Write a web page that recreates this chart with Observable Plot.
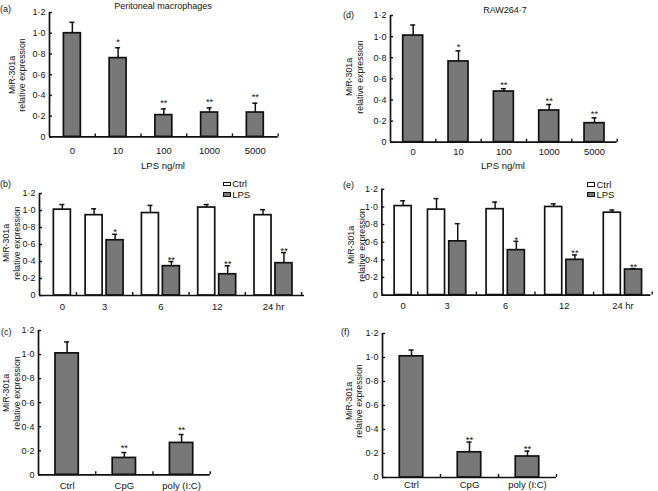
<!DOCTYPE html>
<html>
<head>
<meta charset="utf-8">
<script src="https://cdn.jsdelivr.net/npm/d3@7"></script>
<script src="https://cdn.jsdelivr.net/npm/@observablehq/plot@0.6"></script>
<style>
  html, body { margin: 0; padding: 0; background: #fff; }
  #fig { position: relative; width: 658px; height: 491px; overflow: hidden;
         font-family: "Liberation Sans", Arial, Helvetica, sans-serif; color: #111; }
  .panel { position: absolute; }
  .t { position: absolute; white-space: nowrap; line-height: 1; }
  .sw { position: absolute; box-sizing: border-box; border: 1px solid #111; width: 8px; height: 4.5px; }
</style>
</head>
<body>
<div id="fig"></div>
<script>
// ---------------- data ----------------
const yTicks = [0, 0.2, 0.4, 0.6, 0.8, 1.0, 1.2];

// (a) Peritoneal macrophages, LPS dose
const doseLabels = ["0", "10", "100", "1000", "5000"];
const aValues = [1.00, 0.76, 0.21, 0.235, 0.235];
const aErrors = [0.105, 0.10, 0.06, 0.045, 0.09];
const aStars  = ["", "*", "**", "**", "**"];

// (d) RAW264.7, LPS dose
const dValues = [1.01, 0.765, 0.48, 0.30, 0.18];
const dErrors = [0.10, 0.10, 0.027, 0.057, 0.05];
const dStars  = ["", "*", "**", "**", "**"];

// (b) Peritoneal macrophages, time course
const timeLabels = ["0", "3", "6", "12", "24 hr"];
const bCtrl    = [1.01, 0.945, 0.97, 1.035, 0.945];
const bCtrlErr = [0.06, 0.075, 0.09, 0.035, 0.065];
const bLps     = [null, 0.65, 0.345, 0.25, 0.38];
const bLpsErr  = [null, 0.07, 0.055, 0.10, 0.125];
const bStars   = ["", "*", "**", "**", "**"];

// (e) RAW264.7, time course
const eCtrl    = [1.01, 0.97, 0.975, 1.00, 0.935];
const eCtrlErr = [0.06, 0.125, 0.08, 0.035, 0.03];
const eLps     = [null, 0.61, 0.51, 0.40, 0.29];
const eLpsErr  = [null, 0.20, 0.10, 0.055, 0.012];
const eStars   = ["", "", "*", "**", "**"];

// (c) / (f) TLR ligands
const ligandLabels = ["Ctrl", "CpG", "poly (I:C)"];
const cValues = [1.01, 0.14, 0.265];
const cErrors = [0.095, 0.045, 0.07];
const cStars  = ["", "**", "**"];
const fValues = [1.01, 0.21, 0.175];
const fErrors = [0.052, 0.085, 0.045];
const fStars  = ["", "**", "**"];

// ---------------- helpers ----------------
const GRAY = "#787878";
const INK = "#111";
const fmt = d => d === 0 ? "0" : d.toFixed(1).replace(".", "\u00b7");

function singleRows(labels, values, errors, stars) {
  return labels.map((l, i) => ({slot: l, label: l, cond: "one", paired: false,
    value: values[i], err: errors[i], star: stars[i]}));
}
function groupedRows(labels, ctrl, ctrlErr, lps, lpsErr, stars) {
  const rows = [];
  labels.forEach((l, i) => {
    const paired = lps[i] != null;
    rows.push({slot: l + "|Ctrl", label: l, cond: "Ctrl", paired, value: ctrl[i], err: ctrlErr[i], star: ""});
    if (paired) rows.push({slot: l + "|LPS", label: l, cond: "LPS", paired, value: lps[i], err: lpsErr[i], star: stars[i]});
  });
  return rows;
}

const fig = document.getElementById("fig");

function drawPanel(p) {
  const ml = 40, mr = 8, mt = 10, mb = 24;
  const width = p.x1 - p.x0 + ml + mr;
  const height = p.yZero - p.yTop + mt + mb;
  const slots = p.rows.map(d => d.slot);
  const align = p.align ?? 0.5;
  const xs = d3.scaleBand(slots, [p.x0, p.x1]).paddingInner(p.pi).paddingOuter(p.po).align(align);
  const bw = xs.bandwidth(), step = xs.step();
  const capInset = (bw - 5) / 2;
  const sw = 1.7;

  let roles, labelSets, bounds;
  if (p.grouped) {
    const d = p.pairShift;
    roles = [
      {rows: p.rows.filter(r => r.cond === "Ctrl" && !r.paired), dx: 0, fill: "white"},
      {rows: p.rows.filter(r => r.cond === "Ctrl" && r.paired), dx: d, fill: "white"},
      {rows: p.rows.filter(r => r.cond === "LPS"), dx: -d, fill: GRAY}
    ];
    labelSets = [
      {rows: p.rows.filter(r => r.cond === "Ctrl" && !r.paired), dx: 0},
      {rows: p.rows.filter(r => r.cond === "Ctrl" && r.paired), dx: step / 2}
    ];
    bounds = p.rows.filter(r => !r.paired || r.cond === "LPS").map(r => r.slot);
  } else {
    roles = [{rows: p.rows, dx: 0, fill: GRAY}];
    labelSets = [{rows: p.rows, dx: 0}];
    bounds = slots;
  }

  const marks = [];
  for (const role of roles) {
    marks.push(
      Plot.barY(role.rows, {x: "slot", y: "value", dx: role.dx, fill: role.fill, stroke: INK, strokeWidth: sw}),
      Plot.ruleX(role.rows, {x: "slot", y1: "value", y2: d => d.value + d.err, dx: role.dx, stroke: INK, strokeWidth: 1.5}),
      Plot.tickY(role.rows, {x: "slot", y: d => d.value + d.err, dx: role.dx, insetLeft: capInset, insetRight: capInset, stroke: INK, strokeWidth: 1.5}),
      Plot.text(role.rows.filter(d => d.star), {x: "slot", y: d => d.value + d.err, text: "star", dx: role.dx, dy: p.starDy, fontSize: 9.5, fill: INK})
    );
  }
  // axes lines and ticks
  marks.push(
    Plot.ruleY([0], {stroke: INK, strokeWidth: 1.7}),
    Plot.ruleX([slots[0]], {x: d => d, y1: 0, y2: 1.2, dx: p.x0 - (xs(slots[0]) + bw / 2), stroke: INK, strokeWidth: 1.7}),
    Plot.ruleY(yTicks, {y: d => d, insetRight: (p.x1 - p.x0) - 3, stroke: INK, strokeWidth: 1.4}),
    Plot.ruleX(bounds, {x: d => d, y1: 0, y2: 0, insetTop: -3, dx: step / 2, stroke: INK, strokeWidth: 1.4})
  );
  for (const ls of labelSets) {
    marks.push(Plot.text(ls.rows, {x: "slot", y: () => 0, text: "label", dx: ls.dx, dy: p.labelDy, fontSize: 9.5, fill: INK}));
  }

  const chart = Plot.plot({
    width, height,
    marginLeft: ml, marginRight: mr, marginTop: mt, marginBottom: mb,
    style: {fontFamily: '"Liberation Sans", Arial, sans-serif', fontSize: "9px", color: INK, background: "none", overflow: "visible"},
    x: {type: "band", domain: slots, paddingInner: p.pi, paddingOuter: p.po, align, round: false, axis: null},
    y: {domain: [0, 1.2], ticks: yTicks, tickFormat: fmt, tickSize: 0, tickPadding: 4, label: null},
    marks
  });
  const wrap = document.createElement("div");
  wrap.className = "panel";
  wrap.style.left = (p.x0 - ml) + "px";
  wrap.style.top = (p.yTop - mt) + "px";
  wrap.appendChild(chart);
  fig.appendChild(wrap);
}

function addText(txt, x, y, {size = 9, anchor = "middle", rotate = 0} = {}) {
  const el = document.createElement("div");
  el.className = "t";
  el.textContent = txt;
  el.style.left = x + "px";
  el.style.top = y + "px";
  el.style.fontSize = size + "px";
  const tx = anchor === "middle" ? "-50%" : anchor === "end" ? "-100%" : "0";
  el.style.transform = `translate(${tx},-50%)` + (rotate ? ` rotate(${rotate}deg)` : "");
  fig.appendChild(el);
}
function addYTitle(x1, x2, cy) {
  addText("MiR-301a", x1, cy, {size: 8.8, rotate: -90});
  addText("relative expression", x2, cy, {size: 8.8, rotate: -90});
}
function addLegend(x, y1, y2) {
  const names = ["Ctrl", "LPS"], fills = ["#fff", GRAY], ys = [y1, y2];
  names.forEach((n, i) => {
    const b = document.createElement("div");
    b.className = "sw";
    b.style.left = x + "px";
    b.style.top = (ys[i] - 2.2) + "px";
    b.style.background = fills[i];
    fig.appendChild(b);
    addText(n, x + 9.5, ys[i], {size: 9.5, anchor: "start"});
  });
}

// ---------------- panels ----------------
drawPanel({rows: singleRows(doseLabels, aValues, aErrors, aStars),
  x0: 49.3, x1: 278, yTop: 12.3, yZero: 136.7, pi: 0.63, po: 0.315, starDy: -6, labelDy: 14});
drawPanel({rows: singleRows(doseLabels, dValues, dErrors, dStars),
  x0: 390, x1: 616.7, yTop: 15, yZero: 141.7, pi: 0.56, po: 0.28, starDy: -4, labelDy: 9.5});
drawPanel({rows: groupedRows(timeLabels, bCtrl, bCtrlErr, bLps, bLpsErr, bStars), grouped: true, pairShift: 3.6,
  x0: 39, x1: 304, yTop: 193.3, yZero: 295.3, pi: 0.396, po: 0.405, align: 0.63, starDy: -2, labelDy: 11.5});
drawPanel({rows: groupedRows(timeLabels, eCtrl, eCtrlErr, eLps, eLpsErr, eStars), grouped: true, pairShift: 4.1,
  x0: 381.7, x1: 655, yTop: 189.3, yZero: 296.7, pi: 0.418, po: 0.30, align: 0.725, starDy: -1.7, labelDy: 11.5});
drawPanel({rows: singleRows(ligandLabels, cValues, cErrors, cStars),
  x0: 38.3, x1: 210, yTop: 330, yZero: 474.3, pi: 0.593, po: 0.2965, starDy: -5, labelDy: 10.7});
drawPanel({rows: singleRows(ligandLabels, fValues, fErrors, fStars),
  x0: 381.7, x1: 555.7, yTop: 332.7, yZero: 476.7, pi: 0.595, po: 0.2975, starDy: -2.3, labelDy: 7.5});

// ---------------- annotations ----------------
addText("(a)", 0, 8.5, {size: 9, anchor: "start"});
addText("Peritoneal macrophages", 163, 5.5, {size: 9});
addText("LPS ng/ml", 163, 165.5, {size: 9.5});
addText("(d)", 343, 15, {size: 9, anchor: "start"});
addText("RAW264\u00b77", 505, 10, {size: 9});
addText("LPS ng/ml", 503, 165.5, {size: 9.5});
addText("(b)", 0, 184, {size: 9, anchor: "start"});
addText("(e)", 343, 185, {size: 9, anchor: "start"});
addText("(c)", 1, 332, {size: 9, anchor: "start"});
addText("(f)", 341, 332, {size: 9, anchor: "start"});

addYTitle(12, 22, 75);
addYTitle(348.5, 360, 77);
addYTitle(5.5, 16.5, 243);
addYTitle(351, 361.5, 245);
addYTitle(5.5, 16.5, 393);
addYTitle(348.5, 358.5, 401);

addLegend(222.7, 184, 194.5);
addLegend(587, 184.5, 194.5);
</script>
</body>
</html>
